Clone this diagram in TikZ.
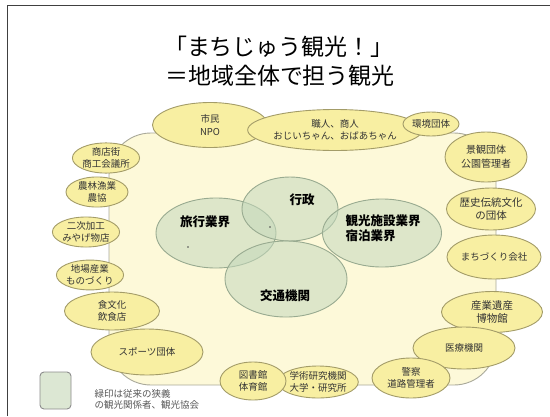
\documentclass[tikz,border=0pt]{standalone}
\usepackage{fontspec}
\setmainfont{Noto Sans CJK JP}
\usetikzlibrary{shapes.geometric}
\definecolor{bgfill}{HTML}{FDF9D9}
\definecolor{bgline}{HTML}{A9A99A}
\definecolor{ovfill}{HTML}{F8EFA2}
\definecolor{ovline}{HTML}{A39C68}
\definecolor{grfill}{HTML}{C4D8BC}
\definecolor{grline}{HTML}{98AA90}
\definecolor{lgfill}{HTML}{DCE7D3}
\definecolor{txt}{HTML}{333333}
\tikzset{
  outer/.style={ellipse, draw=ovline, fill=ovfill, line width=0.9pt, inner sep=0pt,
    align=center, text=txt, font=\fontsize{9.5}{12.5}\selectfont},
  inner/.style={ellipse, draw=grline, fill=grfill, fill opacity=0.55, text opacity=1,
    line width=0.9pt, inner sep=0pt},
  innerlabel/.style={align=left, font=\fontsize{12.5}{15}\selectfont\bfseries},
  titletext/.style={font=\fontsize{23}{28}\selectfont},
}
\newcommand{\ov}[6]{\node[outer, minimum width=#3pt, minimum height=#4pt, #6] (#1) at #2 {#5};}
\begin{document}
\begin{tikzpicture}[x=1pt,y=-1pt]
\useasboundingbox (0,0) rectangle (550,416);
\fill[white] (0,0) rectangle (550,416);
\draw[line width=1.5pt, black!75] (7.5,416) -- (7.5,5.5) -- (550,5.5);
% title
\node[titletext] (t1) at (279,47) {「まちじゅう観光！」};
\node[titletext] (t2) at (280,76) {＝地域全体で担う観光};
% background blob
\draw[bgline, fill=bgfill, line width=0.9pt, rounded corners=42pt] (109,133) rectangle (496,385);
% outer ellipses
\ov{shimin}{(210,125)}{115}{45}{市民\\NPO}{}
\ov{shokunin}{(335,130)}{120}{41}{職人、商人\\おじいちゃん、おばあちゃん}{}
\ov{kankyo}{(431,124)}{56}{24}{環境団体}{}
\ov{keikan}{(486,157)}{82}{50}{景観団体\\公園管理者}{font=\fontsize{10}{14}\selectfont}
\ov{rekishi}{(491,209)}{75}{42}{歴史伝統文化\\の団体}{font=\fontsize{10.5}{13}\selectfont}
\ov{machi}{(494,257)}{82}{44}{まちづくり会社}{}
\ov{sangyo}{(492,312)}{101}{41}{産業遺産\\博物館}{font=\fontsize{10.5}{12.5}\selectfont}
\ov{iryo}{(464,348)}{102}{42}{医療機関}{}
\ov{keisatsu}{(411,378)}{78}{40}{警察\\道路管理者}{}
\ov{gakujutsu}{(318,382)}{60}{32}{学術研究機関\\大学・研究所}{}
\ov{tosho}{(253,381)}{66}{38}{図書館\\体育館}{}
\ov{shoku}{(112,311)}{95}{38}{食文化\\飲食店}{}
\ov{sports}{(147,352)}{112}{46}{スポーツ団体}{}
\ov{jiba}{(90,275)}{66}{28}{地場産業\\ものづくり}{}
\ov{niji}{(86,232)}{66}{30}{二次加工\\みやげ物店}{}
\ov{norin}{(97,192)}{62}{30}{農林漁業\\農協}{}
\ov{shoten}{(106,158)}{66}{28}{商店街\\商工会議所}{}
% inner circles
\node[inner, minimum width=120pt, minimum height=70pt] (ryoko) at (216,233) {};
\node[inner, minimum width=96pt, minimum height=64pt] (gyosei) at (290,209) {};
\node[inner, minimum width=119pt, minimum height=68pt] (kanko) at (382,233) {};
\node[inner, minimum width=122pt, minimum height=76pt] (kotsu) at (286,279) {};
\node[innerlabel] (lryoko) at (205,222) {旅行業界};
\node[innerlabel] (lgyosei) at (302,200) {行政};
\node[innerlabel, anchor=west] (lkanko) at (342,228) {観光施設業界\\宿泊業界};
\node[innerlabel] (lkotsu) at (285,296) {交通機関};
\fill[black!70] (270,227) circle (0.9);
\fill[black!70] (188,247) circle (0.9);
% legend
\node[draw=black!45, fill=lgfill, rounded corners=4pt, line width=0.9pt,
  minimum width=31pt, minimum height=37pt, inner sep=0pt] (legbox) at (55.5,390.5) {};
\node[anchor=west, align=left, text=black!65, font=\fontsize{9.5}{11}\selectfont] (legtext) at (91,399.5)
  {緑印は従来の狭義\\の観光関係者、観光協会};
\end{tikzpicture}
\end{document}
